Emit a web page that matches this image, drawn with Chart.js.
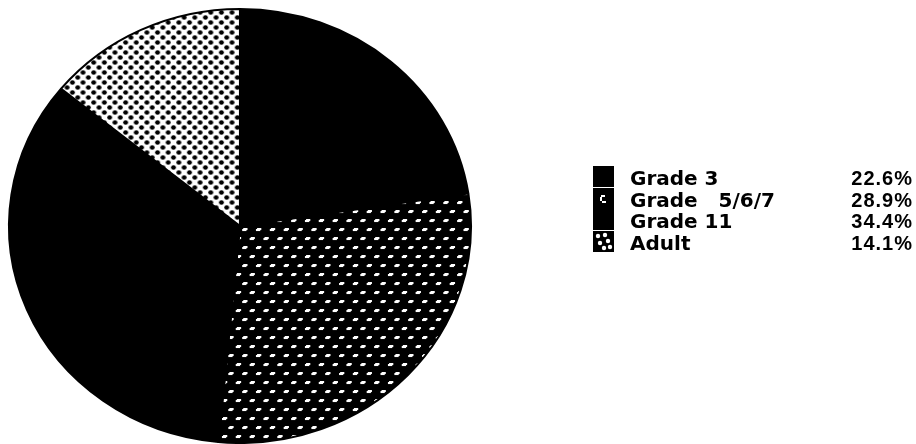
<!DOCTYPE html>
<html>
<head>
<meta charset="utf-8">
<script src="https://cdn.jsdelivr.net/npm/chart.js@4"></script>
<style>
  html, body { margin: 0; padding: 0; background: #fff; overflow: hidden; }
  canvas { display: block; }
</style>
</head>
<body>
<canvas id="pie" width="916" height="444"></canvas>
<script>
// Survey groups and their share of respondents (percent)
const categories = ['Grade 3', 'Grade   5/6/7', 'Grade 11', 'Adult'];
const shares = [22.6, 28.9, 34.4, 14.1];
const shareLabels = shares.map(v => v.toFixed(1) + '%');

// Black field with small white flecks
function fleckPattern() {
  const c = document.createElement('canvas');
  c.width = 13; c.height = 18;
  const g = c.getContext('2d');
  g.fillStyle = '#000';
  g.fillRect(0, 0, 13, 18);
  g.fillStyle = '#fff';
  const mark = (x, y) => {
    g.fillRect(x, y, 3, 3);
    g.fillRect(x + 3, y, 1, 2);
    g.fillRect(x - 1, y + 1, 1, 2);
  };
  mark(3, 3);
  mark(9, 12);
  return g.createPattern(c, 'repeat');
}

// White field with dense black dots
function dotPattern() {
  const c = document.createElement('canvas');
  c.width = 10; c.height = 10;
  const g = c.getContext('2d');
  g.fillStyle = '#fff';
  g.fillRect(0, 0, 10, 10);
  g.fillStyle = '#000';
  [[2.5, 2.5], [7.5, 7.5]].forEach(([x, y]) => {
    g.beginPath();
    g.arc(x, y, 2.3, 0, Math.PI * 2);
    g.fill();
  });
  return g.createPattern(c, 'repeat');
}

const fills = ['#000', fleckPattern(), '#000', dotPattern()];

// Pie is drawn slightly wider than tall
const stretchX = 232 / 218;
const stretch = {
  id: 'stretch',
  beforeDatasetsDraw(chart) {
    const arc = chart.getDatasetMeta(0).data[0];
    const ctx = chart.ctx;
    ctx.save();
    ctx.translate(arc.x, arc.y);
    ctx.scale(stretchX, 1);
    ctx.translate(-arc.x, -arc.y);
  },
  afterDatasetsDraw(chart) {
    chart.ctx.restore();
  }
};

// Key on the right: swatch, group name, share
const sideKey = {
  id: 'sideKey',
  afterDraw(chart) {
    const ctx = chart.ctx;
    ctx.save();
    const x0 = 593, top0 = 166, step = 21.7, size = 21;
    categories.forEach((name, i) => {
      const y = Math.round(top0 + i * step);
      ctx.fillStyle = '#000';
      ctx.fillRect(x0, y, size, size);
      ctx.fillStyle = '#fff';
      if (i === 1) {
        ctx.fillRect(x0 + 8, y + 7, 4, 2);
        ctx.fillRect(x0 + 7, y + 9, 2, 4);
        ctx.fillRect(x0 + 9, y + 13, 4, 2);
      } else if (i === 3) {
        [[5, 5], [12, 4], [7, 12], [15, 10], [11, 17], [17, 16]].forEach(([dx, dy]) => {
          ctx.beginPath();
          ctx.arc(x0 + dx, y + dy, 2.2, 0, Math.PI * 2);
          ctx.fill();
        });
      }
      ctx.fillStyle = '#000';
      ctx.textBaseline = 'alphabetic';
      ctx.font = 'bold 20px "DejaVu Sans", sans-serif';
      ctx.textAlign = 'left';
      ctx.letterSpacing = '0px';
      ctx.fillText(name, 630, y + 19);
      ctx.font = 'bold 20px "Liberation Sans", Arial, sans-serif';
      ctx.letterSpacing = '1px';
      ctx.textAlign = 'right';
      ctx.fillText(shareLabels[i], 913, y + 19);
    });
    ctx.restore();
  }
};

new Chart(document.getElementById('pie'), {
  type: 'pie',
  data: {
    labels: categories,
    datasets: [{
      data: shares,
      backgroundColor: fills,
      borderColor: '#000',
      borderWidth: 2
    }]
  },
  options: {
    responsive: false,
    animation: false,
    events: [],
    layout: { padding: { left: 22, top: 8, right: 458, bottom: 0 } },
    plugins: {
      legend: { display: false },
      tooltip: { enabled: false }
    }
  },
  plugins: [stretch, sideKey]
});
</script>
</body>
</html>
